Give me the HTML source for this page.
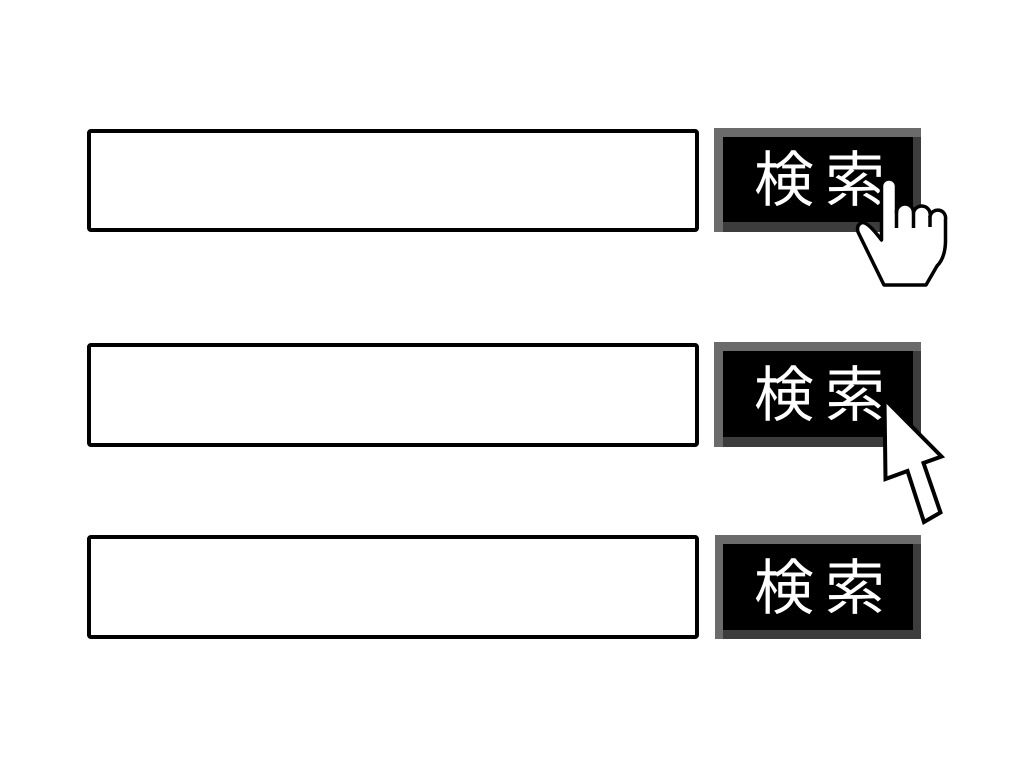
<!DOCTYPE html>
<html>
<head>
<meta charset="utf-8">
<style>
html,body{margin:0;padding:0;background:#fff;}
body{width:1024px;height:768px;overflow:hidden;}
svg{display:block;}
text{font-family:"Liberation Sans","Noto Sans CJK JP",sans-serif;}
</style>
</head>
<body>
<svg width="1024" height="768" viewBox="0 0 1024 768" xmlns="http://www.w3.org/2000/svg">
  <rect x="0" y="0" width="1024" height="768" fill="#fff"/>

  <!-- input boxes -->
  <rect x="89" y="131" width="608" height="99" rx="2" fill="#fff" stroke="#000" stroke-width="4"/>
  <rect x="89" y="345" width="608" height="100" rx="2" fill="#fff" stroke="#000" stroke-width="4"/>
  <rect x="89" y="537" width="608" height="100" rx="2" fill="#fff" stroke="#000" stroke-width="4"/>

  <!-- button 1 -->
  <rect x="714" y="128" width="207" height="104" fill="#6b6b6b"/>
  <rect x="723" y="137" width="198" height="95" fill="#3c3c3c"/>
  <rect x="723" y="137" width="190" height="85" fill="#000"/>
  <text x="754 825" y="201" font-size="60" fill="#fff">検索</text>

  <!-- button 2 -->
  <rect x="714" y="342" width="207" height="105" fill="#6b6b6b"/>
  <rect x="723" y="351" width="198" height="96" fill="#3c3c3c"/>
  <rect x="723" y="351" width="190" height="86" fill="#000"/>
  <text x="754 825" y="416" font-size="60" fill="#fff">検索</text>

  <!-- button 3 -->
  <rect x="715" y="535" width="206" height="104" fill="#6b6b6b"/>
  <rect x="723" y="544" width="198" height="95" fill="#3c3c3c"/>
  <rect x="723" y="544" width="190" height="86" fill="#000"/>
  <text x="754 825" y="609" font-size="60" fill="#fff">検索</text>

  <!-- hand cursor -->
  <path d="M881.5 240 L881.5 186.5 A7.5 7.5 0 0 1 896.5 186.5 L896.5 212.5
           A8.5 8.5 0 0 1 913.5 212.5
           A8.25 8.25 0 0 1 930 216.5
           A7.75 7.75 0 0 1 945.5 219.5
           L945.5 242 Q945 258 937 266 L926 285 L884 285
           L858 232 Q856 225 862 222.5 Q868 222 881.5 240 Z"
        fill="#fff" stroke="#000" stroke-width="3.5" stroke-linejoin="round"/>
  <line x1="896.5" y1="210" x2="896.5" y2="228" stroke="#000" stroke-width="3.5"/>
  <line x1="913.5" y1="212" x2="913.5" y2="228" stroke="#000" stroke-width="3.5"/>
  <line x1="930" y1="216" x2="930" y2="227" stroke="#000" stroke-width="3.5"/>

  <!-- arrow cursor -->
  <path d="M884.5 399 L885.5 479 L907.5 471 L924 522 L940.5 512.5 L923.5 463 L941.5 456.5 Z"
        fill="#fff" stroke="#000" stroke-width="4" stroke-linejoin="miter"/>
</svg>
</body>
</html>
